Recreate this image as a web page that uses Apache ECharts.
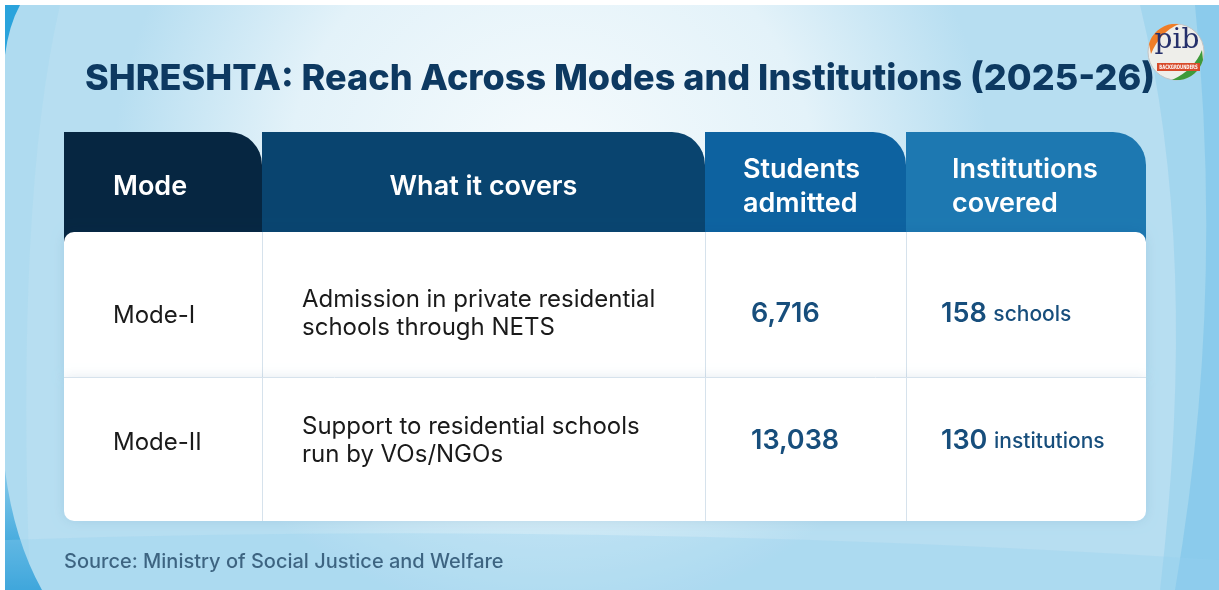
<!DOCTYPE html>
<html>
<head>
<meta charset="utf-8">
<title>SHRESHTA: Reach Across Modes and Institutions (2025-26)</title>
<script src="https://cdn.jsdelivr.net/npm/echarts@6.0.0/dist/echarts.min.js"></script>
<style>
  html, body { margin: 0; padding: 0; background: #fff; }
  #main { width: 1219px; height: 590px; }
</style>
</head>
<body>
<div id="main"></div>
<script>
// table content
var headers = ['Mode', 'What it covers', 'Students\nadmitted', 'Institutions\ncovered'];
var modes = ['Mode-I', 'Mode-II'];
var coverage = [
  'Admission in private residential\nschools through NETS',
  'Support to residential schools\nrun by VOs/NGOs'
];
var studentsAdmitted = [6716, 13038];
var institutionsCovered = [158, 130];
var institutionKinds = ['schools', 'institutions'];

// layout (table units = px inside the grid)
var colEdges = [0, 198, 641, 842, 1082];
var headerH = 100;
var rowEdges = [100, 245, 389];
var rowTextY = [184, 311];
var headerColors = ['#062641', '#09446f', '#0d62a0', '#1d78b1'];
var headerTextX = [49, null, 38, 46];
var cellTextX = [49, 40, 46, 35];
var FONT = 'Inter, "Noto Sans", sans-serif';

var myChart = echarts.init(document.getElementById('main'));

// background swooshes + pib logo (paths need a custom series)
function renderDecor() {
  return {
    type: 'group',
    children: [
      { type: 'path', shape: { pathData: 'M5 5 L60 5 Q15 200 30 590 L5 590 Z' },
        style: { fill: 'rgba(160,214,238,0.35)' } },
      { type: 'path', shape: { pathData: 'M5 5 L20 5 Q9 25 5 55 Z' },
        style: { fill: '#2aa3dc' } },
      { type: 'path', shape: { pathData: 'M5 470 Q14 540 42 590 L5 590 Z' },
        style: { fill: new echarts.graphic.LinearGradient(0, 0, 0, 1, [
          { offset: 0, color: 'rgba(40,160,220,0.3)' }, { offset: 1, color: '#1b95d4' }]) } },
      { type: 'path', shape: { pathData: 'M1140 5 Q1200 250 1160 590 L1219 590 L1219 5 Z' },
        style: { fill: 'rgba(140,205,236,0.45)' } },
      { type: 'path', shape: { pathData: 'M1195 5 Q1225 300 1175 590 L1219 590 L1219 5 Z' },
        style: { fill: 'rgba(110,190,232,0.45)' } },
      { type: 'path', shape: { pathData: 'M5 540 Q600 520 1219 560 L1219 590 L5 590 Z' },
        style: { fill: 'rgba(150,210,238,0.3)' } },
      { type: 'group', x: 1176, y: 52, children: [
        { type: 'circle', shape: { cx: 0, cy: 0, r: 28 }, style: { fill: '#eeeeea', stroke: '#c4c4c4', lineWidth: 1 } },
        { type: 'path', shape: { pathData: 'M-27 -8 A28 28 0 0 1 -4 -28 L3 -28 Q-16 -20 -25 2 Z' }, style: { fill: '#ee7d27' } },
        { type: 'path', shape: { pathData: 'M27 8 A28 28 0 0 1 4 28 L-4 28 Q18 18 26 -2 Z' }, style: { fill: '#3e9a3a' } },
        { type: 'text', style: { text: 'pib', x: 1, y: -11, align: 'center', verticalAlign: 'middle',
          fill: '#25306b', font: '28px "DejaVu Serif", serif' } },
        { type: 'rect', shape: { x: -19, y: 11, width: 43, height: 8 }, style: { fill: '#d84a2a' } },
        { type: 'text', x: 2.5, y: 15, scaleX: 0.7, style: { text: 'BACKGROUNDERS', x: 0, y: 0, align: 'center', verticalAlign: 'middle',
          fill: '#ffffff', font: 'bold 6px "DejaVu Sans Condensed", sans-serif' } }
      ] }
    ]
  };
}

function renderHeader(params, api) {
  var i = api.value(0);
  var p0 = api.coord([colEdges[i], 0]);
  var p1 = api.coord([colEdges[i + 1], headerH + 10]);
  var tx = headerTextX[i] == null ? (p0[0] + p1[0]) / 2 : p0[0] + headerTextX[i];
  return {
    type: 'group',
    children: [{
      type: 'rect',
      shape: { x: p0[0], y: p0[1], width: p1[0] - p0[0], height: p1[1] - p0[1], r: [0, 33, 0, 0] },
      style: { fill: headerColors[i] }
    }, {
      type: 'text',
      style: {
        text: headers[i],
        x: tx,
        y: p0[1] + 55,
        fill: '#ffffff',
        font: '600 27px ' + FONT,
        lineHeight: 34,
        align: headerTextX[i] == null ? 'center' : 'left',
        verticalAlign: 'middle'
      }
    }]
  };
}

function renderRow(params, api) {
  var r = api.value(0);
  var top = api.coord([0, rowEdges[r]]);
  var bottom = api.coord([colEdges[4], rowEdges[r + 1]]);
  var ty = api.coord([0, rowTextY[r]])[1];
  var last = r === modes.length - 1;
  var children = [{
    type: 'rect',
    shape: {
      x: top[0], y: top[1], width: bottom[0] - top[0], height: bottom[1] - top[1],
      r: r === 0 ? [10, 10, 0, 0] : (last ? [0, 0, 10, 10] : 0)
    },
    style: { fill: '#ffffff', shadowBlur: 12, shadowColor: 'rgba(0,60,120,0.10)' }
  }];
  if (r > 0) {
    children.push({
      type: 'line',
      shape: { x1: top[0], y1: top[1] + 0.5, x2: bottom[0], y2: top[1] + 0.5 },
      style: { stroke: '#d6e2ec', lineWidth: 1 }
    });
  }
  for (var c = 1; c < 4; c++) {
    var x = Math.round(api.coord([colEdges[c], 0])[0]) + 0.5;
    children.push({
      type: 'line',
      shape: { x1: x, y1: top[1], x2: x, y2: bottom[1] },
      style: { stroke: '#d6e2ec', lineWidth: 1 }
    });
  }
  var colX = function (c) { return api.coord([colEdges[c], 0])[0] + cellTextX[c]; };
  children.push({
    type: 'text',
    style: { text: modes[r], x: colX(0), y: ty, fill: '#1a1a1a', font: '400 24px ' + FONT, verticalAlign: 'middle' }
  });
  children.push({
    type: 'text',
    style: { text: coverage[r], x: colX(1), y: ty - 2, fill: '#1a1a1a', font: '400 24px ' + FONT, lineHeight: 28, verticalAlign: 'middle' }
  });
  children.push({
    type: 'text',
    style: {
      text: studentsAdmitted[r].toLocaleString('en-US'),
      x: colX(2), y: ty - 2, fill: '#174e7c', font: '600 27px ' + FONT, verticalAlign: 'middle'
    }
  });
  children.push({
    type: 'text',
    style: {
      text: '{n|' + institutionsCovered[r] + '}  {u|' + institutionKinds[r] + '}',
      x: colX(3), y: ty - 2, verticalAlign: 'middle',
      rich: {
        n: { fill: '#174e7c', font: '600 27px ' + FONT, verticalAlign: 'bottom' },
        u: { fill: '#174e7c', font: '500 21px ' + FONT, verticalAlign: 'bottom', padding: [0, 0, 2, 0] }
      }
    }
  });
  return { type: 'group', children: children };
}

myChart.setOption({
  animation: false,
  title: {
    text: 'SHRESHTA: Reach Across Modes and Institutions (2025-26)',
    left: 80,
    top: 56,
    textStyle: { color: '#0d3961', fontFamily: FONT, fontWeight: 800, fontSize: 36 }
  },
  graphic: [
    { type: 'rect', z: -10, shape: { x: 5, y: 5, width: 1214, height: 585 },
      style: { fill: new echarts.graphic.RadialGradient(0.45, 0.3, 0.75, [
        { offset: 0, color: '#f6fbfd' }, { offset: 0.6, color: '#e3f2f9' }, { offset: 1, color: '#b7def1' }]) } },
    { type: 'text', left: 64, top: 552, style: { text: 'Source: Ministry of Social Justice and Welfare',
      fill: '#173552', font: '500 20px ' + FONT } }
  ],
  grid: { left: 64, top: 132, width: 1082, height: 389 },
  xAxis: { type: 'value', min: 0, max: 1082, show: false },
  yAxis: { type: 'value', min: 0, max: 389, inverse: true, show: false },
  series: [{
    type: 'custom',
    name: 'decor',
    coordinateSystem: 'none',
    renderItem: renderDecor,
    data: [0],
    silent: true,
    z: 1
  }, {
    type: 'custom',
    name: 'header',
    renderItem: renderHeader,
    data: headers.map(function (h, i) { return [i, 0]; }),
    z: 2
  }, {
    type: 'custom',
    name: 'rows',
    renderItem: renderRow,
    data: modes.map(function (m, i) { return [i, 0]; }),
    z: 3
  }]
});
</script>
</body>
</html>
